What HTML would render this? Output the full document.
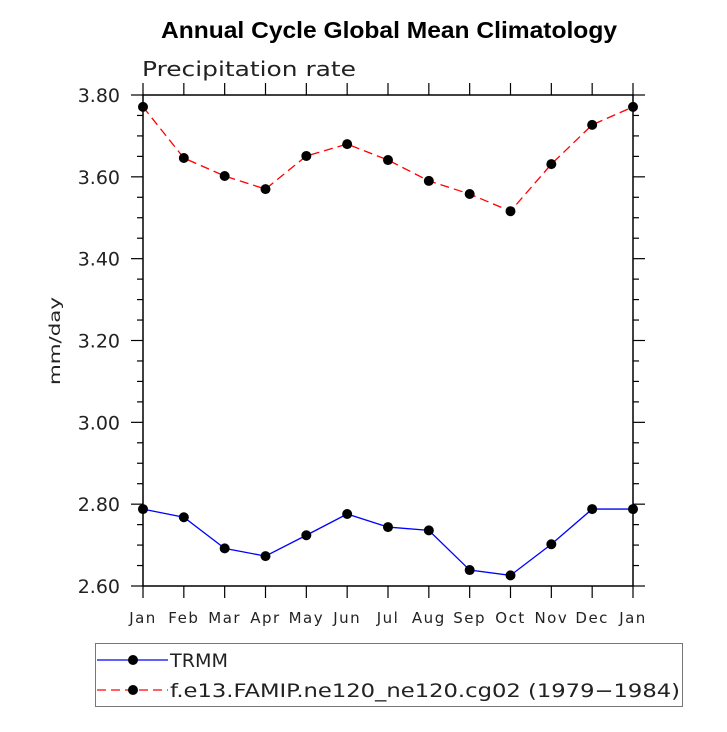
<!DOCTYPE html>
<html><head><meta charset="utf-8"><style>
body{margin:0;background:#fff;}
svg text{font-family:"DejaVu Sans","Liberation Sans",sans-serif;}
</style></head><body>
<svg id="chart" width="727" height="727" xmlns="http://www.w3.org/2000/svg">
<text x="161" y="38" textLength="456" lengthAdjust="spacingAndGlyphs" font-weight="bold" font-size="23" style="font-family:'Liberation Sans',sans-serif">Annual Cycle Global Mean Climatology</text>
<text x="142" y="76" textLength="214" lengthAdjust="spacingAndGlyphs" font-size="20" fill="#222">Precipitation rate</text>
<text transform="translate(60,341) rotate(-90)" text-anchor="middle" textLength="88" lengthAdjust="spacingAndGlyphs" font-size="15" fill="#222">mm/day</text>
<g id="axes"></g>
<g id="series"></g>
<rect x="95.5" y="643.5" width="587" height="63" fill="none" stroke="#777"/>
<g>
<line x1="97" y1="660" x2="168" y2="660" stroke="#00f" stroke-width="1.3"/>
<circle cx="133" cy="660" r="5" fill="#000"/>
<text x="170" y="667" textLength="58" lengthAdjust="spacingAndGlyphs" font-size="19" fill="#222">TRMM</text>
</g>
<g>
<line x1="97" y1="690" x2="168" y2="690" stroke="#f00" stroke-width="1.3" stroke-dasharray="9,5"/>
<circle cx="133" cy="690" r="5" fill="#000"/>
<text x="170" y="697" textLength="510" lengthAdjust="spacingAndGlyphs" font-size="19" fill="#222">f.e13.FAMIP.ne120_ne120.cg02 (1979−1984)</text>
</g>
</svg>
<script>
const months=["Jan","Feb","Mar","Apr","May","Jun","Jul","Aug","Sep","Oct","Nov","Dec","Jan"];
const trmm=[2.788,2.768,2.692,2.673,2.724,2.776,2.744,2.736,2.639,2.626,2.702,2.788,2.788];
const model=[3.771,3.646,3.602,3.570,3.651,3.680,3.641,3.590,3.558,3.516,3.631,3.727,3.771];
const yTicks=["2.60","2.80","3.00","3.20","3.40","3.60","3.80"];
const L=143,R=633,T=95,B=586,yMin=2.6,yMax=3.8;
const xs=i=>L+i*(R-L)/(months.length-1);
const ys=v=>B-(v-yMin)/(yMax-yMin)*(B-T);
const NS="http://www.w3.org/2000/svg";
function mk(tag,attrs,parent){const e=document.createElementNS(NS,tag);for(const k in attrs)e.setAttribute(k,attrs[k]);parent.appendChild(e);return e;}
const ax=document.getElementById('axes');
const frame=mk('rect',{x:L,y:T,width:R-L,height:B-T,fill:'none',stroke:'#000','stroke-width':1.5},ax);


months.forEach((m,i)=>{
  const x=xs(i);
  mk('line',{x1:x,y1:B,x2:x,y2:B+12,stroke:'#000','stroke-width':1.2},ax);
  mk('line',{x1:x,y1:T,x2:x,y2:T-12,stroke:'#000','stroke-width':1.2},ax);
  const t=mk('text',{x:x,y:B+37,'text-anchor':'middle','font-size':15,fill:'#222','letter-spacing':1.5},ax);
  t.textContent=m;
  
  
});
for(let v=yMin;v<=yMax+1e-9;v+=0.05){
  const y=ys(v);const major=Math.abs(Math.round(v*5)-v*5)<1e-6;
  const len=major?12:6;
  mk('line',{x1:L,y1:y,x2:L-len,y2:y,stroke:'#000','stroke-width':1.2},ax);
  mk('line',{x1:R,y1:y,x2:R+len,y2:y,stroke:'#000','stroke-width':1.2},ax);
}
yTicks.forEach(s=>{
  const t=mk('text',{x:L-23,y:ys(parseFloat(s))+7,'text-anchor':'end','font-size':19,fill:'#222'},ax);
  t.textContent=s;
  
  
});
const sg=document.getElementById('series');
function series(vals,color,dash,name){
  const g=mk('g',{},sg);
  
  
  const pts=vals.map((v,i)=>xs(i)+','+ys(v)).join(' ');
  const a={points:pts,fill:'none',stroke:color,'stroke-width':1.3};
  if(dash)a['stroke-dasharray']=dash;
  mk('polyline',a,g);
  vals.forEach((v,i)=>{
    const c=mk('circle',{cx:xs(i),cy:ys(v),r:5,fill:'#000'},g);
    
    
  });
}
series(model,'#f00','9,5','model-series');
series(trmm,'#00f',null,'trmm-series');
</script>
</body></html>
